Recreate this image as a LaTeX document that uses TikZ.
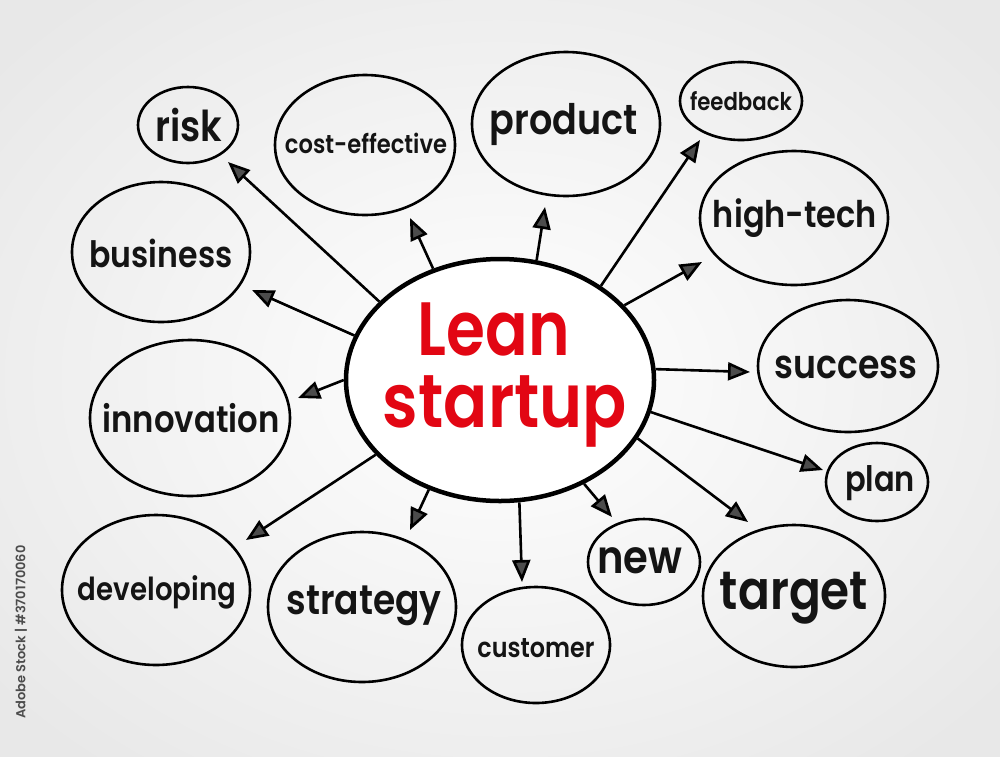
\documentclass[tikz,border=0pt]{standalone}
\usepackage{fontspec}
\setmainfont{Poppins}[UprightFont=* SemiBold]
\usepackage{graphicx}
\usetikzlibrary{shapes.geometric,arrows.meta}
\definecolor{leanred}{RGB}{226,6,19}
\newcommand\fitw[2]{\scalebox{1}[1.15]{\resizebox{#1pt}{!}{#2}}}
\tikzset{
  bub/.style={draw=black, line width=2.6pt, ellipse, inner sep=0pt},
  hub/.style={draw=black, line width=4.5pt, ellipse, inner sep=0pt, fill=white},
  word/.style={inner sep=0pt, text=black!92},
  con/.style={line width=2.6pt, -{Triangle[length=22pt,width=18pt,fill=black!70]}},
}
\begin{document}
\begin{tikzpicture}[x=1pt,y=-1pt]
\useasboundingbox (0,0) rectangle (1000,756);
\shade[inner color=white, outer color=black!9] (-150,-120) rectangle (1150,876);
\clip (0,0) rectangle (1000,756);
% watermark side text
\node[rotate=90, text=black!70, font=\fontsize{13}{15}\selectfont, anchor=center] (wm) at (21,632) {Adobe Stock | \#370170060};
% hub
\node[hub, minimum width=308pt, minimum height=242pt] (C) at (500,380) {};
\node[word, text=leanred] (lean) at (494,329) {\scalebox{1}[1.2]{\resizebox{152pt}{!}{Lean}}};
\node[word, text=leanred] (startup) at (505,411) {\scalebox{1}[1.15]{\resizebox{244pt}{!}{startup}}};
% bubbles
\node[bub, minimum width=100pt, minimum height=76pt] (risk) at (188,125) {};
\node[bub, minimum width=180pt, minimum height=140pt] (cost) at (365,145) {};
\node[bub, minimum width=188pt, minimum height=144pt] (prod) at (566,124) {};
\node[bub, minimum width=122pt, minimum height=78pt] (feed) at (741,101) {};
\node[bub, minimum width=188pt, minimum height=134pt] (high) at (794,218) {};
\node[bub, minimum width=178pt, minimum height=140pt] (bus) at (161,252) {};
\node[bub, minimum width=180pt, minimum height=132pt] (succ) at (848,366) {};
\node[bub, minimum width=200pt, minimum height=156pt] (inno) at (190,418) {};
\node[bub, minimum width=102pt, minimum height=78pt] (plan) at (877,482) {};
\node[bub, minimum width=188pt, minimum height=150pt] (dev) at (156,590) {};
\node[bub, minimum width=188pt, minimum height=150pt] (strat) at (362,607) {};
\node[bub, minimum width=148pt, minimum height=116pt] (cust) at (536,645) {};
\node[bub, minimum width=112pt, minimum height=86pt] (new) at (644,562) {};
\node[bub, minimum width=182pt, minimum height=142pt] (targ) at (794,596) {};
% words
\node[word] (wrisk) at (189,125) {\fitw{67}{risk}};
\node[word] (wcost) at (366,143) {\fitw{162}{cost-effective}};
\node[word] (wprod) at (564,124) {\fitw{148}{product}};
\node[word] (wfeed) at (741,101) {\fitw{102}{feedback}};
\node[word] (whigh) at (795,218) {\fitw{164}{high-tech}};
\node[word] (wbus) at (161,253) {\fitw{143}{business}};
\node[word] (wsucc) at (846,367) {\fitw{143}{success}};
\node[word] (winno) at (191,418) {\fitw{177}{innovation}};
\node[word] (wplan) at (880,483) {\fitw{70}{plan}};
\node[word] (wdev) at (157,592) {\fitw{158}{developing}};
\node[word] (wstrat) at (364,606) {\fitw{155}{strategy}};
\node[word] (wcust) at (536,648) {\fitw{117}{customer}};
\node[word] (wnew) at (640,561) {\fitw{85}{new}};
\node[word] (wtarg) at (794,598) {\fitw{148}{target}};
% arrow tips
\coordinate (trisk) at (228,162);
\coordinate (tcost) at (410,218);
\coordinate (tprod) at (545,207);
\coordinate (tfeed) at (700,140);
\coordinate (thigh) at (702,262);
\coordinate (tbus) at (252,290);
\coordinate (tinno) at (298,398);
\coordinate (tsucc) at (750,372);
\coordinate (tplan) at (823,470);
\coordinate (ttarg) at (748,522);
\coordinate (tnew) at (612,517);
\coordinate (tcust) at (522,582);
\coordinate (tstrat) at (410,530);
\coordinate (tdev) at (246,540);
% connectors
\draw[con] (C.147.8) -- (trisk);
\draw[con] (C.121.3) -- (tcost);
\draw[con] (C.73.1) -- (tprod);
\draw[con] (C.43.6) -- (tfeed);
\draw[con] (C.31.2) -- (thigh);
\draw[con] (C.163.3) -- (tbus);
\draw[con] (C.180) -- (tinno);
\draw[con] (C.4.1) -- (tsucc);
\draw[con] (C.-12.2) -- (tplan);
\draw[con] (C.-23.8) -- (ttarg);
\draw[con] (C.-51.8) -- (tnew);
\draw[con] (C.-81.6) -- (tcust);
\draw[con] (C.-123.5) -- (tstrat);
\draw[con] (C.211.4) -- (tdev);
\end{tikzpicture}
\end{document}
